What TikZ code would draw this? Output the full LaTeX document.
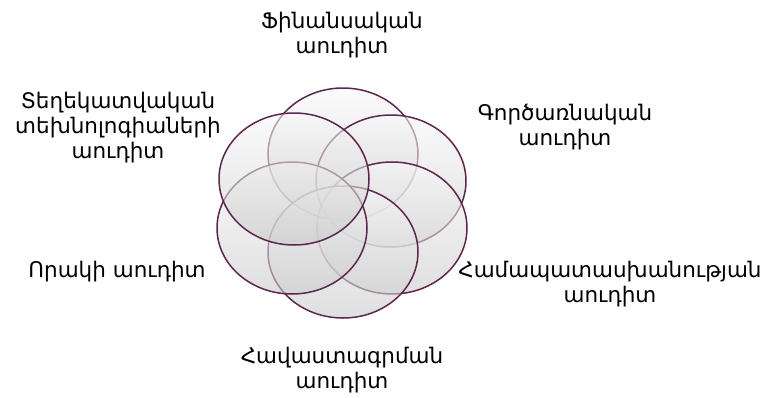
\documentclass[tikz,border=0pt]{standalone}
\usepackage{fontspec}
\setmainfont{DejaVu Sans}
\definecolor{cercle}{RGB}{92,38,78}
\tikzset{
  bulle/.style={draw=cercle, line width=1.5pt, top color=gray!6, bottom color=gray!42, fill opacity=0.6, draw opacity=1},
  etiquette/.style={align=center, font=\fontsize{21.5}{25}\selectfont, inner sep=0pt}
}
\begin{document}
\begin{tikzpicture}[x=1pt, y=-1pt]
    \useasboundingbox (0,0) rectangle (764,397);

    % Cercles
    \shade[bulle] (343,154) ellipse [x radius=75, y radius=66];
    \shade[bulle] (391,181) ellipse [x radius=75, y radius=66];
    \shade[bulle] (392,228) ellipse [x radius=75, y radius=66];
    \shade[bulle] (343,252) ellipse [x radius=75, y radius=66];
    \shade[bulle] (292,228) ellipse [x radius=75, y radius=66];
    \shade[bulle] (294,179) ellipse [x radius=75, y radius=66];

    % Etiquettes
    \node[etiquette] (fin) at (342,35) {Ֆինանսական\\աուդիտ};
    \node[etiquette] (tex) at (118,128) {Տեղեկատվական\\տեխնոլոգիաների\\աուդիտ};
    \node[etiquette] (gor) at (565,127) {Գործառնական\\աուդիտ};
    \node[etiquette] (ham) at (610,284) {Համապատասխանության\\աուդիտ};
    \node[etiquette] (hav) at (342,370) {Հավաստագրման\\աուդիտ};
    \node[etiquette] (ora) at (117,272) {Որակի աուդիտ};
\end{tikzpicture}
\end{document}
